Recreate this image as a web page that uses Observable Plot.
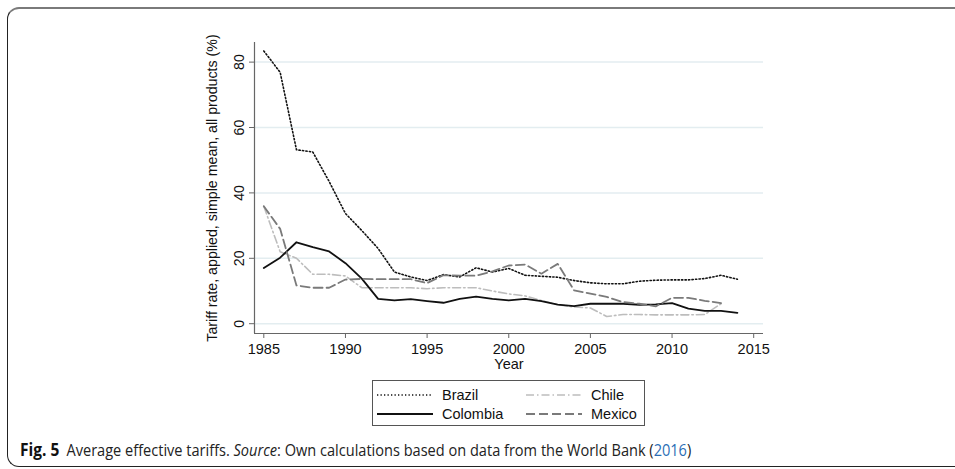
<!DOCTYPE html>
<html>
<head>
<meta charset="utf-8">
<script src="https://cdn.jsdelivr.net/npm/d3@7"></script>
<script src="https://cdn.jsdelivr.net/npm/@observablehq/plot@0.6"></script>
<style>
  html, body { margin: 0; padding: 0; background: #fff; }
  body { width: 955px; height: 469px; position: relative; overflow: hidden; font-family: "Liberation Sans", Arial, sans-serif; }
  #frame { position: absolute; left: 7px; top: 7px; width: 1000px; height: 460px; border-top: 2px solid #7a7a7a; border-left: 1px solid #222; border-bottom: 1px solid #222; border-radius: 12px 0 0 12px; box-sizing: border-box; }
  #chart { position: absolute; left: 0; top: 0; }
  #legend { position: absolute; left: 372px; top: 380px; width: 273px; height: 46px; border: 1px solid #555; box-sizing: border-box; font-size: 14.5px; color: #111; }
  .item { position: absolute; display: flex; align-items: center; height: 18px; }
  .item svg { margin-right: 9px; }
  #caption { position: absolute; left: 20px; top: 438px; font-family: "Open Sans", sans-serif; font-size: 16px; color: #222; white-space: nowrap; transform-origin: left center; transform: scaleX(0.91); }
  #caption b { font-weight: 700; font-size: 17px; margin-right: 8px; color: #111; }
  #caption a { color: #2a6db5; text-decoration: none; }
</style>
</head>
<body>
<div id="frame"></div>
<div id="chart"></div>
<div id="legend"></div>
<div id="caption"><b>Fig. 5</b>Average effective tariffs. <i>Source</i>: Own calculations based on data from the World Bank (<a>2016</a>)</div>
<script>
const years = d3.range(1985, 2015);
const brazil = [83.4, 76.9, 53.2, 52.5, 43.5, 33.7, 28.5, 23.0, 15.8, 14.3, 13.2, 15.0, 14.3, 17.1, 15.8, 16.9, 14.8, 14.5, 14.2, 13.2, 12.5, 12.2, 12.2, 13.0, 13.3, 13.4, 13.4, 13.8, 14.8, 13.6];
const colombia = [17.0, 20.2, 24.9, 23.4, 22.1, 18.5, 13.8, 7.6, 7.1, 7.5, 6.9, 6.4, 7.6, 8.3, 7.6, 7.1, 7.6, 6.9, 5.8, 5.4, 6.1, 6.1, 6.1, 5.8, 5.9, 6.3, 4.6, 3.9, 3.9, 3.3];
const chile = [35.9, 22.0, 20.0, 15.1, 15.1, 14.6, 11.0, 11.0, 11.0, 11.0, 10.7, 11.0, 11.0, 11.0, 10.0, 9.1, 8.5, 7.1, 5.8, 5.1, 4.8, 2.2, 2.8, 2.8, 2.7, 2.7, 2.7, 2.8, 6.1];
const mexico = [35.9, 29.0, 11.7, 11.0, 11.0, 13.5, 13.7, 13.6, 13.6, 13.6, 12.4, 14.8, 14.7, 14.7, 16.0, 17.8, 18.1, 15.3, 18.3, 10.2, 9.2, 8.2, 6.6, 6.1, 5.3, 7.9, 7.9, 7.0, 6.3];
const xTicks = [1985, 1990, 1995, 2000, 2005, 2010, 2015];
const yTicks = [0, 20, 40, 60, 80];
const xDomain = [1984.43, 2015.6];
const yDomain = [-3, 86];

const seriesStyles = [
  {name: "Brazil", values: brazil, stroke: "#111", width: 1.6, dash: "1.3,2.2"},
  {name: "Chile", values: chile, stroke: "#bdbdbd", width: 1.6, dash: "8,3,1.5,3"},
  {name: "Colombia", values: colombia, stroke: "#111", width: 1.8, dash: null},
  {name: "Mexico", values: mexico, stroke: "#7a7a7a", width: 1.8, dash: "9,4"}
];
const toRows = s => s.values.map((v, i) => ({year: years[i], value: v}));

const chart = Plot.plot({
  width: 955,
  height: 469,
  marginLeft: 254,
  marginRight: 192,
  marginTop: 42,
  marginBottom: 136,
  style: {fontFamily: "Liberation Sans, Arial, sans-serif", fontSize: "14.5px", color: "#111", background: "transparent"},
  x: {domain: xDomain},
  y: {domain: yDomain},
  marks: [
    Plot.gridY(yTicks, {stroke: "#e3edf0", strokeOpacity: 1, strokeWidth: 1.5}),
    Plot.ruleY([yDomain[0]], {stroke: "#666", strokeWidth: 1.2}),
    Plot.ruleX([xDomain[0]], {stroke: "#666", strokeWidth: 1.2}),
    Plot.axisX(xTicks, {tickSize: 5, tickPadding: 5, tickFormat: d => String(d), stroke: "#666", label: "Year", labelAnchor: "center", labelArrow: "none", labelOffset: 35, fontSize: 14.5}),
    Plot.axisY(yTicks, {tickSize: 5, tickPadding: 6, tickRotate: -90, stroke: "#666", label: "Tariff rate, applied, simple mean, all products (%)", labelAnchor: "center", labelArrow: "none", labelOffset: 48, fontSize: 14.2}),
    ...seriesStyles.map(s => Plot.line(toRows(s), {x: "year", y: "value", stroke: s.stroke, strokeWidth: s.width, strokeDasharray: s.dash, strokeLinejoin: "round"}))
  ]
});
document.getElementById("chart").appendChild(chart);

// legend
const legendItems = [
  {s: seriesStyles[0], left: 4, top: 5},
  {s: seriesStyles[1], left: 153, top: 5},
  {s: seriesStyles[2], left: 4, top: 24},
  {s: seriesStyles[3], left: 153, top: 24}
];
const legend = document.getElementById("legend");
for (const {s, left, top} of legendItems) {
  const div = document.createElement("div");
  div.className = "item";
  div.style.left = left + "px";
  div.style.top = top + "px";
  div.innerHTML = `<svg width="56" height="10"><line x1="0" x2="56" y1="5" y2="5" stroke="${s.stroke}" stroke-width="${s.width}" ${s.dash ? `stroke-dasharray="${s.dash}"` : ""}/></svg><span>${s.name}</span>`;
  legend.appendChild(div);
}
</script>
</body>
</html>
